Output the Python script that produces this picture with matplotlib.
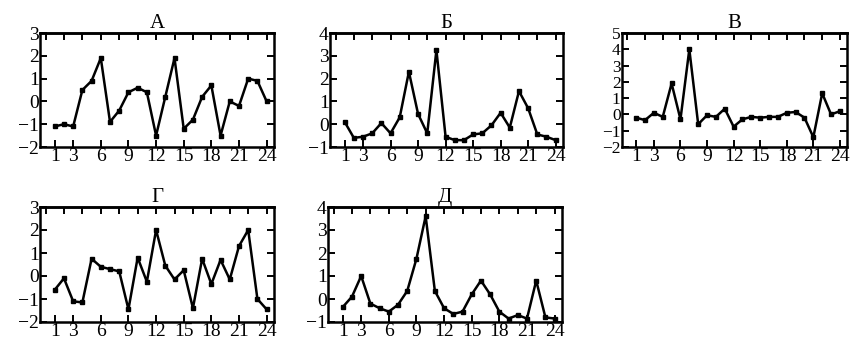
import numpy as np
import matplotlib
matplotlib.use("Agg")
import matplotlib.pyplot as plt

# 24 observations per panel
x = list(range(1, 25))
xtick_pos = [1, 3, 6, 9, 12, 15, 18, 21, 24]

titles = ["А", "Б", "В", "Г", "Д"]

series_a = [-1.1, -1.0, -1.1, 0.5, 0.9, 1.9, -0.9, -0.4, 0.4, 0.6, 0.4, -1.5,
            0.2, 1.9, -1.2, -0.8, 0.2, 0.7, -1.5, 0.0, -0.2, 1.0, 0.9, 0.0]
series_b = [0.1, -0.6, -0.55, -0.4, 0.05, -0.4, 0.3, 2.3, 0.45, -0.4, 3.25, -0.55,
            -0.7, -0.7, -0.45, -0.4, -0.05, 0.5, -0.15, 1.45, 0.7, -0.45, -0.55, -0.7]
series_v = [-0.2, -0.35, 0.1, -0.15, 1.9, -0.3, 4.0, -0.6, -0.05, -0.15, 0.35, -0.75,
            -0.3, -0.15, -0.2, -0.15, -0.15, 0.1, 0.15, -0.2, -1.4, 1.3, 0.0, 0.2]
series_g = [-0.6, -0.1, -1.1, -1.15, 0.75, 0.4, 0.3, 0.2, -1.45, 0.8, -0.25, 2.0,
            0.45, -0.15, 0.25, -1.4, 0.75, -0.35, 0.7, -0.15, 1.3, 2.0, -1.0, -1.45]
series_d = [-0.35, 0.1, 1.0, -0.2, -0.4, -0.55, -0.25, 0.35, 1.75, 3.6, 0.35, -0.4,
            -0.65, -0.55, 0.2, 0.8, 0.2, -0.55, -0.85, -0.7, -0.85, 0.8, -0.8, -0.85]

ylims = [(-2, 3), (-1, 4), (-2, 5), (-2, 3), (-1, 4)]

plt.rcParams.update({
    "font.family": ["Liberation Serif", "DejaVu Serif"],
    "font.size": 14,
    "axes.linewidth": 1.8,
})

fig = plt.figure(figsize=(8.54, 3.45), dpi=100)
W, H = 854, 345
# axes boxes in pixels: left, top, right, bottom
boxes = [(40, 33, 274, 147), (330, 33, 563, 147), (622, 33, 847, 147),
         (40, 207, 274, 322), (328, 207, 562, 322)]
data = [series_a, series_b, series_v, series_g, series_d]

for title, ys, (l, t, r, b), (y0, y1) in zip(titles, data, boxes, ylims):
    ax = fig.add_axes([l / W, 1 - b / H, (r - l) / W, (b - t) / H])
    ax.plot(x, ys, color="black", linewidth=1.8, marker="s", markersize=3.5)
    ax.set_xlim(-0.6, 24.8)
    ax.set_ylim(y0, y1)
    ax.set_xticks(xtick_pos)
    ax.set_yticks(range(y0, y1 + 1))
    ax.set_yticklabels([f"\u2212{abs(v)}" if v < 0 else str(v) for v in range(y0, y1 + 1)])
    ax.tick_params(direction="in", length=5, width=1.4, right=True, pad=1)
    ax.tick_params(axis="y", labelsize=14 if y1 - y0 < 7 else 12.5)
    ax.tick_params(axis="x", labelsize=14)
    top = ax.secondary_xaxis("top")
    top.set_xticks(range(0, 25, 2))
    top.tick_params(direction="in", length=5, width=1.4, labeltop=False)
    ax.set_title(title, fontsize=15, pad=2)

fig.savefig("out.png", dpi=100, facecolor="white")
